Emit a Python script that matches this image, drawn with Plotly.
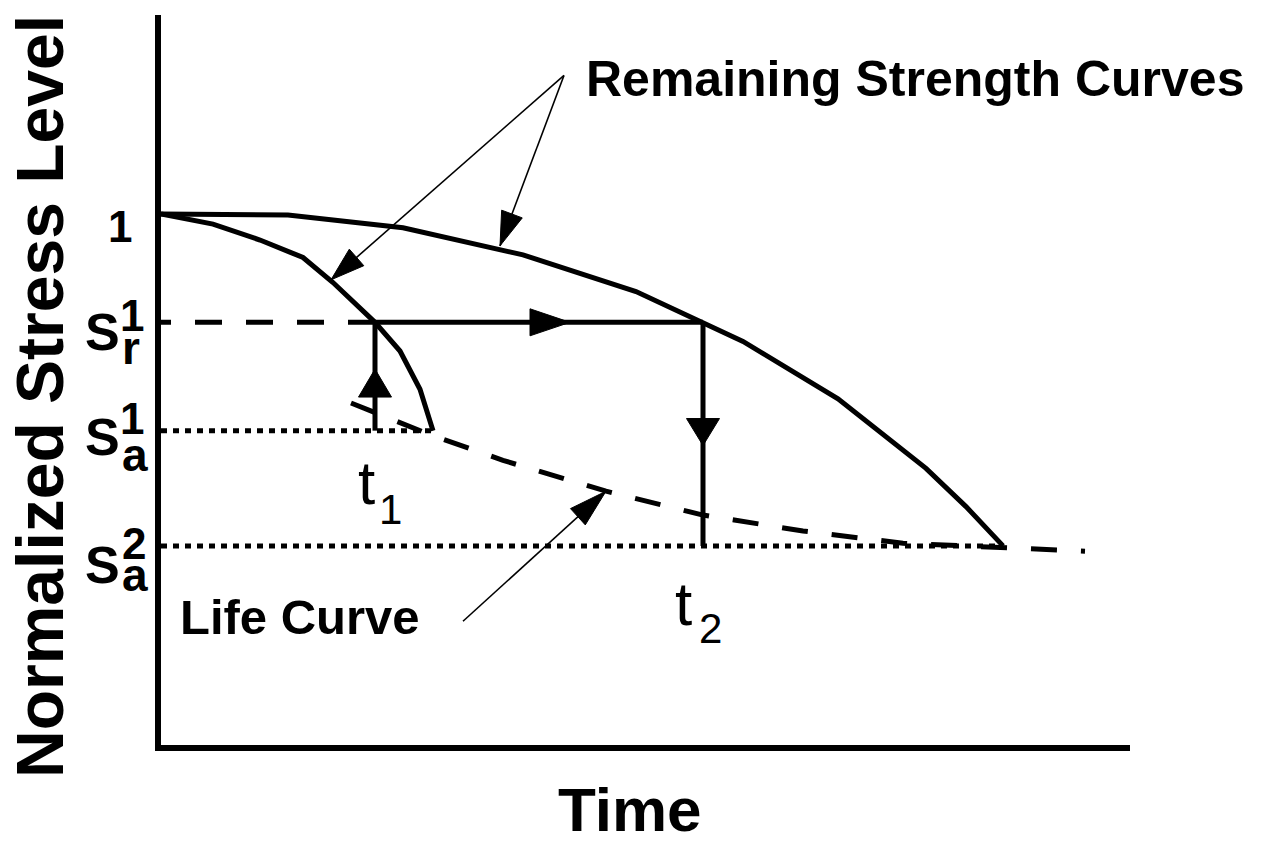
import numpy as np
import plotly.graph_objects as go

# ---------------- data (time: arbitrary units, stress: normalized) ----------------
S_R1 = 0.796
S_A1 = 0.592
S_A2 = 0.375
T1 = 2.14
T2 = 5.42

curve1_t = [0.0, 0.52, 0.99, 1.42, 1.72, 2.14, 2.39, 2.59, 2.72]
curve1_s = [1.0, 0.981, 0.951, 0.918, 0.871, 0.796, 0.742, 0.670, 0.592]

curve2_t = [0.0, 0.52, 1.27, 2.42, 3.62, 4.75, 5.42, 5.82, 6.77, 7.65, 8.05, 8.42]
curve2_s = [1.0, 1.0, 0.998, 0.974, 0.923, 0.854, 0.796, 0.760, 0.652, 0.521, 0.449, 0.375]

life_t = [1.90, 2.67, 3.42, 4.45, 5.42, 6.42, 7.42, 8.42, 9.24]
life_s = [0.644, 0.586, 0.536, 0.478, 0.433, 0.403, 0.380, 0.371, 0.365]

tick_vals = [1.0, S_R1, S_A1, S_A2]
tick_base = ["1", "S", "S", "S"]
tick_sup = ["", "1", "1", "2"]
tick_sub = ["", "r", "a", "a"]

time_base = ["t", "t"]
time_sub = ["1", "2"]
time_vals = [T1, T2]
time_levels = [S_A1, S_A2]

# pointer arrows (label origin -> targets on curves)
rs_origin = (4.03, 1.261)
rs_target_t = [1.70, 3.39]
rs_target_s = [0.876, 0.940]
life_origin = (3.02, 0.233)
life_target = (4.45, 0.478)

# flow arrows (tip positions)
flow_t = [4.09, T1, T2]
flow_s = [S_R1, 0.708, 0.564]
flow_dir = ["right", "up", "down"]

# ---------------- layout geometry ----------------
OFF = 8                      # page body margin
W, H = 1263 - OFF, 842 - OFF
L, R, T, B = 161 - OFF, 133, 15 - OFF, 97
PW, PH = W - L - R, H - T - B
SX, SY = 100.0, 531.0
XMAX, YMAX = PW / SX, PH / SY
BOT = H - B

FONT = "Liberation Sans, Arial, sans-serif"
LW = 5

fig = go.Figure()


def line(x, y, width=LW, dash="solid"):
    fig.add_trace(go.Scatter(x=x, y=y, mode="lines",
                             line=dict(color="black", width=width, dash=dash),
                             hoverinfo="skip", showlegend=False))


def head(tx, ty, dxp, dyp, length, hw):
    n = np.hypot(dxp, dyp)
    ux, uy = dxp / n, dyp / n
    bx, by = -ux * length, -uy * length
    px, py = -uy * hw, ux * hw
    pts = [(0, 0), (bx + px, by + py), (bx - px, by - py), (0, 0)]
    xs = [tx + p[0] / SX for p in pts]
    ys = [ty + p[1] / SY for p in pts]
    fig.add_trace(go.Scatter(x=xs, y=ys, mode="lines", fill="toself",
                             fillcolor="black", line=dict(color="black", width=1),
                             hoverinfo="skip", showlegend=False))


# remaining strength curves
line(curve1_t, curve1_s)
line(curve2_t, curve2_s)

# life curve (dashed)
line(life_t, life_s, dash="26px,24px")

# s_r dashed reference (drawn from t1 back to the axis)
line([T1, 0], [S_R1, S_R1], dash="27px,24px")
# dotted levels
line([0, curve1_t[-1]], [S_A1, S_A1], dash="6px,6px")
line([0, curve2_t[-1]], [S_A2, S_A2], dash="6px,6px")

# load path
line([T1, T2], [S_R1, S_R1])
line([T1, T1], [S_A1, S_R1])
line([T2, T2], [S_A2, S_R1])

# flow arrows
flow_style = {"right": ((1, 0), 40, 13.5), "up": ((0, 1), 28, 16.5), "down": ((0, -1), 27, 16.5)}
for ft, fs, fd in zip(flow_t, flow_s, flow_dir):
    (dx, dy), ln, hw = flow_style[fd]
    head(ft, fs, dx, dy, ln, hw)

# pointer arrows
for tt, ts in zip(rs_target_t, rs_target_s):
    line([rs_origin[0], tt], [rs_origin[1], ts], width=1.6)
    head(tt, ts, (tt - rs_origin[0]) * SX, (ts - rs_origin[1]) * SY, 34, 11)
line([life_origin[0], life_target[0]], [life_origin[1], life_target[1]], width=1.6)
head(life_target[0], life_target[1], (life_target[0] - life_origin[0]) * SX,
     (life_target[1] - life_origin[1]) * SY, 38, 11)

annotations = []


def fnt(size, bold=True):
    return dict(family=FONT, size=size, color="black", weight="bold" if bold else "normal")


def px_ann(text, px, py, size, bold=True, angle=0):
    annotations.append(dict(text=text, xref="paper", yref="paper",
                            x=(px - OFF - L) / PW, y=(BOT - (py - OFF)) / PH,
                            xanchor="center", yanchor="middle", showarrow=False,
                            textangle=angle, font=fnt(size, bold)))


def tick_ann(text, px, level, dy, size):
    annotations.append(dict(text=text, xref="paper", yref="y",
                            x=(px - OFF - L) / PW, y=level, yshift=-dy,
                            xanchor="center", yanchor="middle", showarrow=False,
                            font=fnt(size)))


# tick-like level labels
base_pos = [(120, 12), (102, 10), (102, 6), (102, 19)]
sup_pos = [None, (132, -7), (132, -12), (134, -2)]
sub_pos = [None, (131, 26), (135, 24), (135, 29)]
for i, lv in enumerate(tick_vals):
    bx, bdy = base_pos[i]
    tick_ann(tick_base[i], bx, lv, bdy, 52 if i else 44)
    if tick_sup[i]:
        tick_ann(tick_sup[i], sup_pos[i][0], lv, sup_pos[i][1], 44)
        tick_ann(tick_sub[i], sub_pos[i][0], lv, sub_pos[i][1], 46)

# time labels (t with subscript)
time_base_pos = [(-9, 52), (-20, 58)]
time_sub_pos = [(15, 79), (7, 83)]
for tb, ts, tv, lv, (bx, by), (sx, sy) in zip(time_base, time_sub, time_vals, time_levels,
                                               time_base_pos, time_sub_pos):
    annotations.append(dict(text=tb, xref="x", yref="y", x=tv, y=lv, xshift=bx, yshift=-by,
                            xanchor="center", yanchor="middle", showarrow=False,
                            font=fnt(62, bold=False)))
    annotations.append(dict(text=ts, xref="x", yref="y", x=tv, y=lv, xshift=sx, yshift=-sy,
                            xanchor="center", yanchor="middle", showarrow=False,
                            font=fnt(42, bold=False)))

# titles and labels
px_ann("Normalized Stress Level", 40, 397, 66, angle=-90)
px_ann("Time", 630, 810, 62)
px_ann("Remaining Strength Curves", 915, 79, 50)
px_ann("Life Curve", 300, 617, 49)

axis_common = dict(showline=True, linewidth=6, linecolor="black", showgrid=False,
                   zeroline=False, ticks="", showticklabels=False, fixedrange=True)
fig.update_layout(
    width=W, height=H, autosize=False,
    margin=dict(l=L, r=R, t=T, b=B, pad=0),
    paper_bgcolor="white", plot_bgcolor="white",
    xaxis=dict(range=[0, XMAX], **axis_common),
    yaxis=dict(range=[0, YMAX], **axis_common),
    annotations=annotations, showlegend=False, hovermode=False,
)

fig.write_html("out.html")
